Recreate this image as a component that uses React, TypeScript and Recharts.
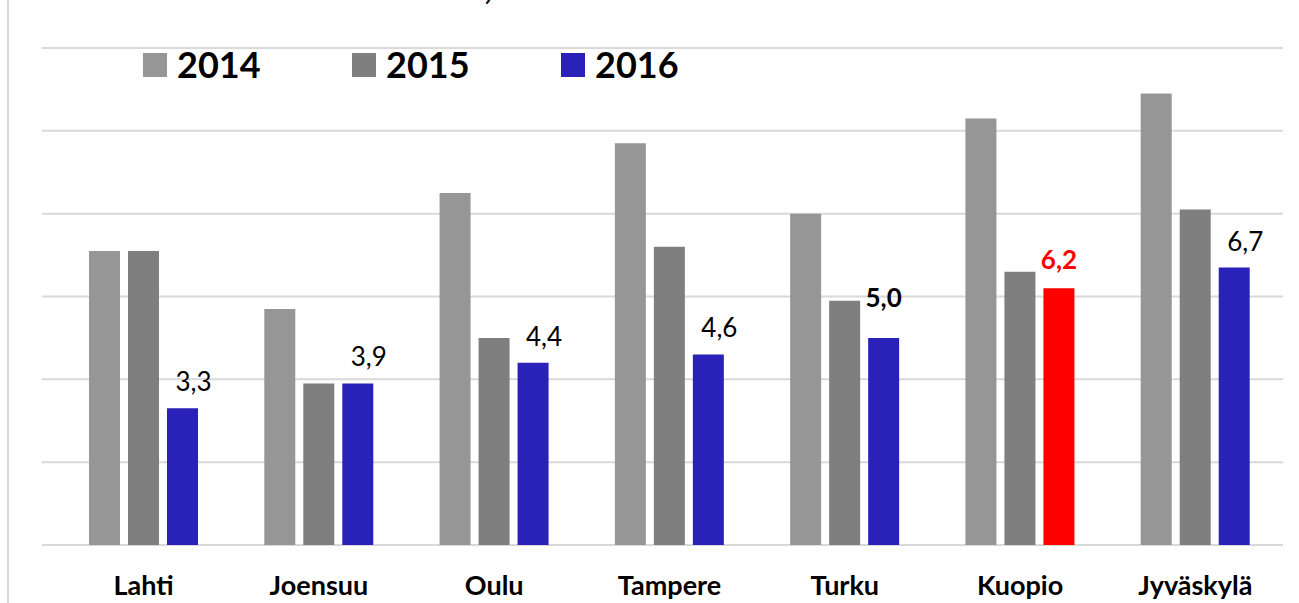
import React from "react";
import { BarChart, Bar, XAxis, YAxis, CartesianGrid, Cell, LabelList, Legend } from "recharts";

const CITIES = ["Lahti", "Joensuu", "Oulu", "Tampere", "Turku", "Kuopio", "Jyväskylä"];
const Y2014 = [7.1, 5.7, 8.5, 9.7, 8.0, 10.3, 10.9];
const Y2015 = [7.1, 3.9, 5.0, 7.2, 5.9, 6.6, 8.1];
const Y2016 = [3.3, 3.9, 4.4, 4.6, 5.0, 6.2, 6.7];
const Y_TICKS = [0, 2, 4, 6, 8, 10, 12];

const SERIES = [
  { key: "y2014", name: "2014", color: "#969696" },
  { key: "y2015", name: "2015", color: "#7f7f7f" },
  { key: "y2016", name: "2016", color: "#2a21b8" },
];

const HIGHLIGHT = "Kuopio";
const BOLD_LABELS = ["Turku", "Kuopio"];

const data = CITIES.map((city, i) => ({
  city,
  y2014: Y2014[i],
  y2015: Y2015[i],
  y2016: Y2016[i],
}));

const FONT = "Lato, 'Open Sans', sans-serif";

function ValueLabel(props: any) {
  const { x, y, width, value, index } = props;
  const city = CITIES[index];
  const bold = BOLD_LABELS.includes(city);
  const cx = Number(x) + Number(width) / 2 + (bold ? 0 : 11);
  const gap = city === "Turku" ? 31 : bold ? 19 : 17;
  return (
    <text x={cx} y={Number(y) - gap} textAnchor="middle" fontFamily={FONT} fontSize={26}
      fontWeight={bold ? 700 : 400} fill={city === HIGHLIGHT ? "#ff0000" : "#000"}>
      {Number(value).toFixed(1).replace(".", ",")}
    </text>
  );
}

function CityTick({ x, y, payload }: any) {
  return (
    <text x={x} y={y} dy={42} textAnchor="middle" fontFamily={FONT} fontSize={27} fontWeight={700} fill="#000">
      {payload.value}
    </text>
  );
}

function LegendContent() {
  return (
    <div style={{ display: "flex", alignItems: "center" }}>
      {SERIES.map((s) => (
        <div key={s.key} style={{ display: "flex", alignItems: "center", width: 209 }}>
          <span style={{ display: "inline-block", width: 24, height: 24, background: s.color, marginRight: 10 }} />
          <span style={{ display: "inline-block", fontFamily: FONT, fontWeight: 700, fontSize: 36,
            color: "#000", lineHeight: "36px", marginTop: -2 }}>{s.name}</span>
        </div>
      ))}
    </div>
  );
}

export default function App() {
  return (
    <div style={{ position: "absolute", left: 0, top: 0, width: 1299, height: 603, background: "#fff" }}>
      <div style={{ position: "absolute", left: 7, top: 0, width: 2, height: 603, background: "#d9d9d9" }} />
      <svg width={1299} height={12} style={{ position: "absolute", left: 0, top: 0 }}>
        <text x={484} y={-1} fontFamily={FONT} fontSize={36} fontWeight={700} fill="#000">,</text>
      </svg>
      <BarChart width={1299} height={603} data={data}
        margin={{ top: 48, right: 16, left: 42, bottom: 28 }}
        barSize={31} barGap={8}>
        <CartesianGrid vertical={false} stroke="#d9d9d9" strokeWidth={2} />
        <XAxis dataKey="city" height={30} axisLine={false} tickLine={false}
          padding={{ left: 14, right: 0 }} interval={0} tick={<CityTick />} />
        <YAxis hide domain={[0, 12]} ticks={Y_TICKS} />
        <Legend verticalAlign="middle" align="center" content={<LegendContent />}
          wrapperStyle={{ position: "absolute", left: 143, top: 48, width: 660 }} />
        {SERIES.map((s) => (
          <Bar key={s.key} dataKey={s.key} name={s.name} fill={s.color} isAnimationActive={false}>
            {s.key === "y2016" && data.map((d) => (
              <Cell key={d.city} fill={d.city === HIGHLIGHT ? "#ff0000" : s.color} />
            ))}
            {s.key === "y2016" && <LabelList dataKey={s.key} content={<ValueLabel />} />}
          </Bar>
        ))}
      </BarChart>
    </div>
  );
}
